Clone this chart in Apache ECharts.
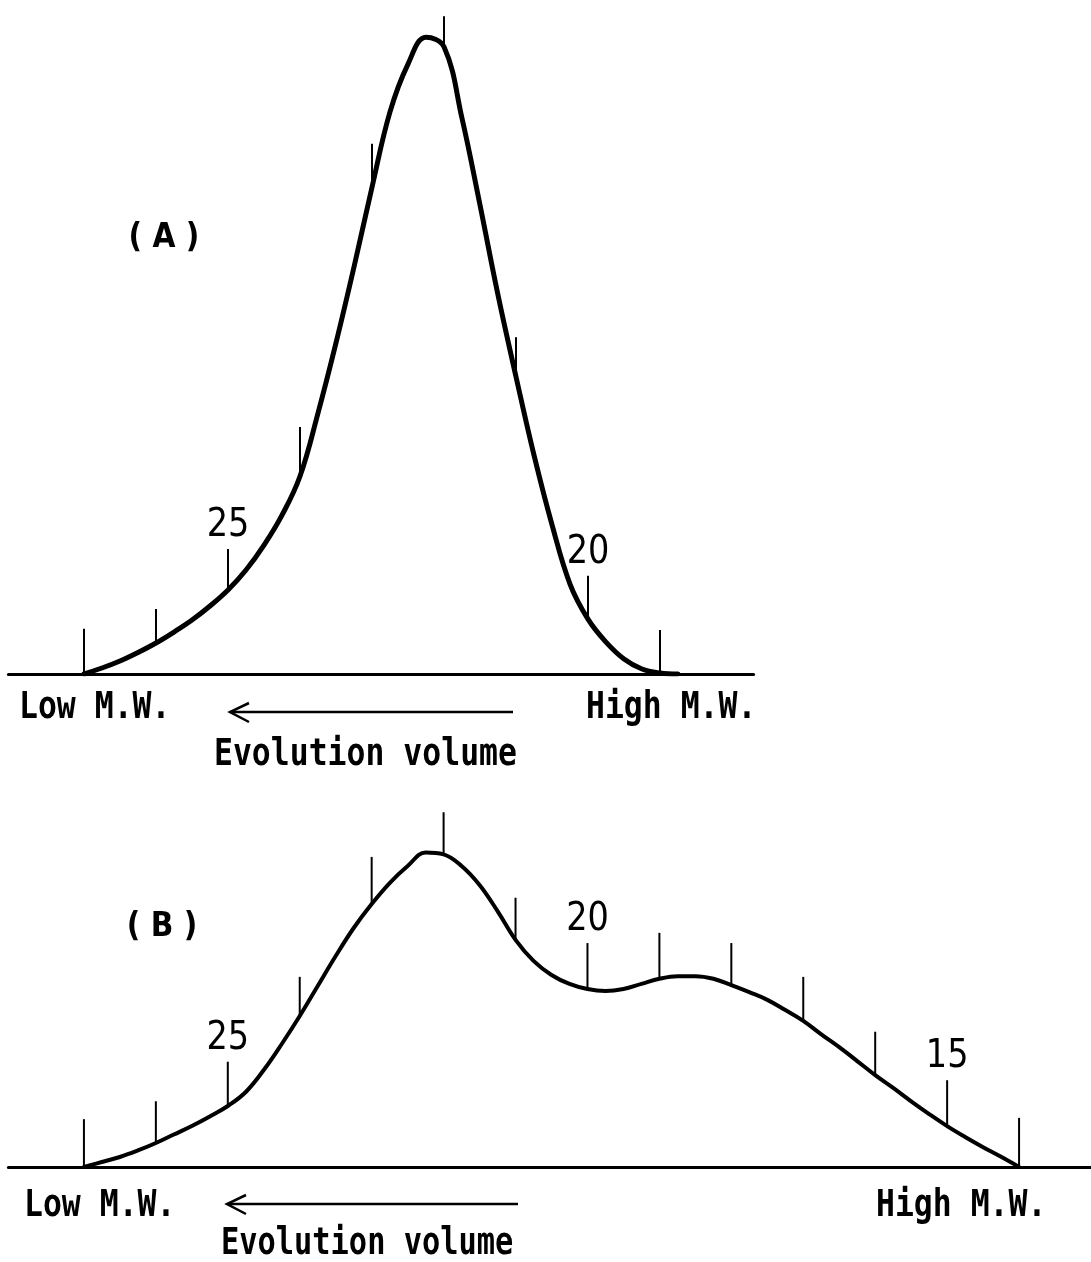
<!DOCTYPE html>
<html>
<head>
<meta charset="utf-8">
<script src="https://cdn.jsdelivr.net/npm/echarts@6/dist/echarts.min.js"></script>
<style>
html,body{margin:0;padding:0;background:#fff;}
#chart{width:1091px;height:1262px;}
</style>
</head>
<body>
<div id="chart"></div>
<script>
// ---- Panel A : elution profile (fraction number vs. relative absorbance) ----
const curveA_frac = [27.0, 26.75, 26.5, 26.25, 26.0, 25.75, 25.5, 25.25, 25.0, 24.75, 24.5, 24.25, 24.0, 23.75, 23.5, 23.25, 23.0, 22.75, 22.5, 22.25, 22.0, 21.75, 21.5, 21.25, 21.0, 20.75, 20.5, 20.25, 20.0, 19.75, 19.5, 19.25, 19.0, 18.75];
const curveA_val  = [0, 0.94, 2.04, 3.37, 4.86, 6.58, 8.46, 10.66, 13.17, 16.3, 20.2, 24.9, 31.0, 40.9, 51.9, 63.8, 76.3, 88.1, 95.6, 99.8, 98.3, 87.1, 73.5, 59.4, 46.6, 34.3, 23.4, 14.1, 8.6, 5.0, 2.35, 0.78, 0.16, 0];
const ticksA_frac = [27, 26, 25, 24, 23, 22, 21, 20, 19];
const ticksA_base = [0, 4.9, 13.2, 31.0, 76.3, 98.3, 46.6, 8.6, 0.2];
const ticksA_top  = [7.1, 10.2, 19.6, 38.7, 83.1, 103.1, 52.8, 15.4, 6.9];
const labelsA_frac = [25, 20];
const labelsA_text = ['25', '20'];

// ---- Panel B ----
const curveB_frac = [27.0, 26.75, 26.5, 26.25, 26.0, 25.75, 25.5, 25.25, 25.0, 24.75, 24.5, 24.25, 24.0, 23.75, 23.5, 23.25, 23.0, 22.75, 22.5, 22.25, 22.0, 21.75, 21.5, 21.25, 21.0, 20.75, 20.5, 20.25, 20.0, 19.75, 19.5, 19.25, 19.0, 18.75, 18.5, 18.25, 18.0, 17.75, 17.5, 17.25, 17.0, 16.75, 16.5, 16.25, 16.0, 15.75, 15.5, 15.25, 15.0, 14.75, 14.5, 14.25, 14.0];
const curveB_val  = [0, 0.78, 1.57, 2.59, 3.76, 5.09, 6.43, 7.92, 9.56, 11.76, 15.2, 19.28, 23.67, 28.37, 33.07, 37.46, 41.22, 44.51, 47.18, 49.3, 49.0, 47.18, 44.2, 40.1, 35.6, 32.3, 30.1, 28.7, 27.9, 27.6, 27.9, 28.7, 29.5, 29.9, 29.9, 29.5, 28.5, 27.4, 26.2, 24.6, 22.9, 20.8, 18.8, 16.6, 14.4, 12.4, 10.3, 8.3, 6.4, 4.7, 3.1, 1.6, 0];
const ticksB_frac = [27, 26, 25, 24, 23, 22, 21, 20, 19, 18, 17, 16, 15, 14];
const ticksB_base = [0, 3.8, 9.6, 23.7, 41.2, 49.0, 35.6, 27.9, 29.5, 28.5, 22.9, 14.4, 6.4, 0];
const ticksB_top  = [7.5, 10.3, 16.5, 29.8, 48.6, 55.6, 42.2, 35.1, 36.7, 35.1, 29.8, 21.2, 13.6, 7.7];
const labelsB_frac = [25, 20, 15];
const labelsB_text = ['25', '20', '15'];

const panelNames = ['( A )', '( B )'];
const lowText = 'Low M.W.';
const highText = 'High M.W.';
const axisText = 'Evolution volume';

// ---------- build ----------
const zip = (a, b) => a.map((v, i) => [v, b[i]]);
const tickData = (f, b, t) => f.map((v, i) => [v, b[i], t[i]]);

function tickSeries(idx, data) {
  return {
    type: 'custom', xAxisIndex: idx, yAxisIndex: idx, clip: false, silent: true,
    encode: {x: 0, y: [1, 2]},
    data: data,
    renderItem: function (params, api) {
      const p0 = api.coord([api.value(0), api.value(1)]);
      const p1 = api.coord([api.value(0), api.value(2)]);
      return {type: 'line', shape: {x1: p0[0], y1: p0[1], x2: p1[0], y2: p1[1]},
        style: {stroke: '#000', lineWidth: 2}};
    }
  };
}
function labelSeries(idx, fr, texts, ticksF, ticksT) {
  const data = fr.map(f => [f, ticksT[ticksF.indexOf(f)]]);
  return {
    type: 'custom', xAxisIndex: idx, yAxisIndex: idx, clip: false, silent: true,
    encode: {x: 0, y: 1},
    data: data,
    renderItem: function (params, api) {
      const p = api.coord([api.value(0), api.value(1)]);
      return {type: 'text', x: p[0], y: p[1] - 23, scaleX: 0.86,
        style: {text: texts[params.dataIndex], fill: '#000', fontSize: 39,
          fontFamily: 'DejaVu Sans', textAlign: 'center', textVerticalAlign: 'middle'}};
    }
  };
}

const monoStyle = (t) => ({text: t, fill: '#000', fontSize: 37, fontWeight: 'bold',
  fontFamily: 'DejaVu Sans Mono', textVerticalAlign: 'middle'});
const panelStyle = (t) => ({text: t, fill: '#000', fontSize: 33, fontWeight: 'bold',
  fontFamily: 'DejaVu Sans', textAlign: 'center', textVerticalAlign: 'middle'});

const chart = echarts.init(document.getElementById('chart'), null, {renderer: 'canvas'});
const option = {
  animation: false,
  backgroundColor: '#fff',
  grid: [
    {left: 8.4, width: 745.2, top: 4.1, height: 669.9},
    {left: 8.4, width: 1083.6, top: 809.7, height: 357.3}
  ],
  xAxis: [
    {gridIndex: 0, type: 'value', inverse: true, min: 17.7, max: 28.05,
      axisLine: {show: true, lineStyle: {color: '#000', width: 3}}, axisTick: {show: false},
      axisLabel: {show: false}, splitLine: {show: false}},
    {gridIndex: 1, type: 'value', inverse: true, min: 13.0, max: 28.05,
      axisLine: {show: true, lineStyle: {color: '#000', width: 3}}, axisTick: {show: false},
      axisLabel: {show: false}, splitLine: {show: false}}
  ],
  yAxis: [
    {gridIndex: 0, type: 'value', min: 0, max: 105, show: false},
    {gridIndex: 1, type: 'value', min: 0, max: 56, show: false}
  ],
  series: [
    {type: 'line', xAxisIndex: 0, yAxisIndex: 0, data: zip(curveA_frac, curveA_val),
      smooth: 0.4, showSymbol: false, silent: true,
      lineStyle: {color: '#000', width: 5, join: 'round', cap: 'round'}},
    {type: 'line', xAxisIndex: 1, yAxisIndex: 1, data: zip(curveB_frac, curveB_val),
      smooth: 0.4, showSymbol: false, silent: true,
      lineStyle: {color: '#000', width: 4, join: 'round', cap: 'round'}},
    tickSeries(0, tickData(ticksA_frac, ticksA_base, ticksA_top)),
    tickSeries(1, tickData(ticksB_frac, ticksB_base, ticksB_top)),
    labelSeries(0, labelsA_frac, labelsA_text, ticksA_frac, ticksA_top),
    labelSeries(1, labelsB_frac, labelsB_text, ticksB_frac, ticksB_top)
  ],
  graphic: [
    {type: 'text', x: 164, y: 238, scaleX: 0.9, style: panelStyle(panelNames[0])},
    {type: 'text', x: 162, y: 927, scaleX: 0.9, style: panelStyle(panelNames[1])},
    // Panel A annotations
    {type: 'text', x: 19, y: 708, scaleX: 0.85, style: monoStyle(lowText)},
    {type: 'text', x: 586, y: 708, scaleX: 0.85, style: monoStyle(highText)},
    {type: 'text', x: 214, y: 755, scaleX: 0.85, style: monoStyle(axisText)},
    {type: 'polyline', shape: {points: [[513, 712], [230, 712]]}, style: {stroke: '#000', lineWidth: 2.5, fill: null}},
    {type: 'polyline', shape: {points: [[249, 703], [230, 712], [249, 722]]}, style: {stroke: '#000', lineWidth: 2.5, fill: null}},
    // Panel B annotations
    {type: 'text', x: 24, y: 1206, scaleX: 0.85, style: monoStyle(lowText)},
    {type: 'text', x: 876, y: 1206, scaleX: 0.85, style: monoStyle(highText)},
    {type: 'text', x: 221, y: 1244, scaleX: 0.82, style: monoStyle(axisText)},
    {type: 'polyline', shape: {points: [[518, 1204], [227, 1204]]}, style: {stroke: '#000', lineWidth: 2.5, fill: null}},
    {type: 'polyline', shape: {points: [[246, 1195], [227, 1204], [246, 1214]]}, style: {stroke: '#000', lineWidth: 2.5, fill: null}}
  ]
};
chart.setOption(option);
</script>
</body>
</html>
